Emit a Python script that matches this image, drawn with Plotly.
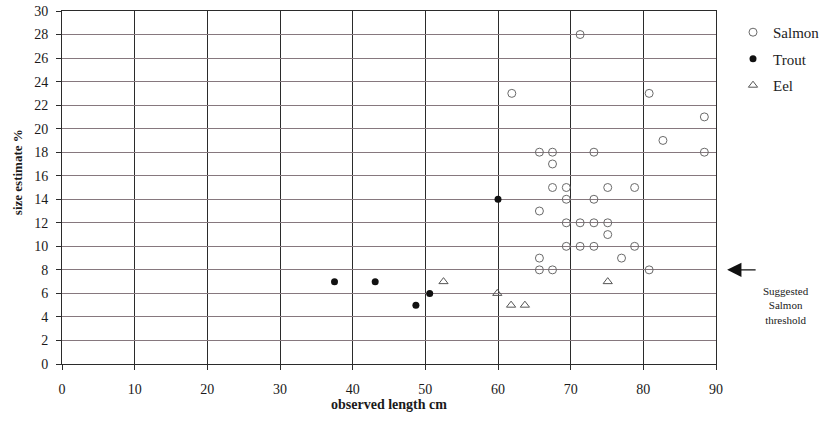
import plotly.graph_objects as go

salmon_x = [71.3, 61.9, 80.8, 88.4, 82.7, 65.7, 67.5, 73.2, 88.4, 67.5,
            67.5, 69.4, 75.1, 78.8, 69.4, 73.2, 65.7, 69.4, 71.3, 73.2, 75.1,
            75.1, 69.4, 71.3, 73.2, 78.8, 65.7, 77.0, 65.7, 67.5, 80.8]
salmon_y = [28, 23, 23, 21, 19, 18, 18, 18, 18, 17,
            15, 15, 15, 15, 14, 14, 13, 12, 12, 12, 12,
            11, 10, 10, 10, 10, 9, 9, 8, 8, 8]
trout_x = [37.5, 43.1, 48.7, 50.6, 60.0]
trout_y = [7, 7, 5, 6, 14]
eel_x = [52.5, 59.9, 61.8, 63.7, 75.1]
eel_y = [7, 6, 5, 5, 7]
threshold = 8

FONT = "Liberation Serif"

fig = go.Figure()
fig.add_trace(go.Scatter(x=salmon_x, y=salmon_y, mode="markers", name="Salmon",
                         legendgroup="a",
                         marker=dict(symbol="circle-open", size=8,
                                     color="#6a6a6a", line=dict(width=1))))
fig.add_trace(go.Scatter(x=trout_x, y=trout_y, mode="markers", name="Trout",
                         legendgroup="b",
                         marker=dict(symbol="circle", size=7, color="#111")))
fig.add_trace(go.Scatter(x=eel_x, y=eel_y, mode="markers", name="Eel",
                         legendgroup="c",
                         marker=dict(symbol="triangle-up-open", size=8,
                                     color="#555", line=dict(width=1))))

fig.update_layout(
    width=829, height=424,
    margin=dict(l=62, r=113, t=11, b=60, autoexpand=False),
    paper_bgcolor="white", plot_bgcolor="white",
    font=dict(family=FONT, size=14, color="#222"),
    showlegend=True,
    legend=dict(x=1.026, y=0.986, xanchor="left", yanchor="top",
                font=dict(family=FONT, size=15, color="#222"),
                tracegroupgap=4, bgcolor="rgba(0,0,0,0)", itemwidth=30),
    xaxis=dict(range=[0, 90], dtick=10, tick0=0, automargin=False,
               showgrid=True, gridcolor="#2b2b2b", gridwidth=1,
               showline=True, linecolor="#2b2b2b", mirror=True,
               ticks="outside", ticklen=5, tickcolor="#2b2b2b",
               ticklabelstandoff=7, ticklabeloverflow="allow",
               tickfont=dict(family=FONT, size=14, color="#1a1a1a"),
               zeroline=False,
               title=dict(text="<b>observed length cm</b>", standoff=3,
                          font=dict(family=FONT, size=14, color="#1a1a1a"))),
    yaxis=dict(range=[0, 30], dtick=2, tick0=0, automargin=False,
               showgrid=True, gridcolor="#86787e", gridwidth=1,
               showline=True, linecolor="#2b2b2b", mirror=True,
               ticks="outside", ticklen=5, tickcolor="#2b2b2b",
               ticklabelstandoff=5, ticklabeloverflow="allow",
               tickfont=dict(family=FONT, size=14, color="#1a1a1a"),
               zeroline=False),
)

fig.add_annotation(xref="paper", yref="paper", x=-0.067, y=0.544,
                   xanchor="center", yanchor="middle", showarrow=False,
                   textangle=-90, text="<b>size estimate %</b>",
                   font=dict(family=FONT, size=13, color="#1a1a1a"))

fig.add_annotation(xref="paper", yref="y", x=1.017, y=threshold,
                   ax=30, ay=0, showarrow=True, text="",
                   arrowhead=2, arrowsize=2.2, arrowwidth=1.3,
                   arrowcolor="#111")
fig.add_annotation(xref="paper", yref="y", x=1.107, y=threshold - 1.1,
                   xanchor="center", yanchor="top", showarrow=False,
                   text="Suggested<br>Salmon<br>threshold",
                   font=dict(family=FONT, size=11, color="#1a1a1a"))

fig.write_html("out.html", config={"displayModeBar": False},
               post_script="document.body.style.margin='0';")
